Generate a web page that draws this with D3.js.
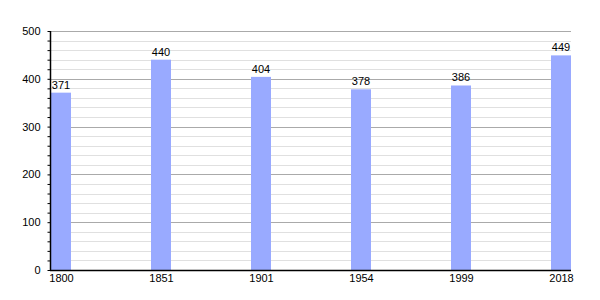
<!DOCTYPE html>
<meta charset="UTF-8">
<style>
  body { margin: 0; background-color: #fff; }
  svg { display: block; font-family: "Liberation Sans", Arial, sans-serif; }
</style>
<svg width="600" height="300"></svg>
<script src="https://d3js.org/d3.v7.min.js"></script>
<script>
  const years = ['1800', '1851', '1901', '1954', '1999', '2018'];
  const population = [371, 440, 404, 378, 386, 449];
  const yTicks = [0, 100, 200, 300, 400, 500];

  const LEFT = 50, RIGHT = 571, TOP = 31, BOTTOM = 270;
  const BAR_WIDTH = 20;

  const svg = d3.select('svg');

  const x = d3.scalePoint()
    .domain(years)
    .range([LEFT + 1 + BAR_WIDTH / 2, RIGHT - BAR_WIDTH / 2]);
  const y = d3.scaleLinear().domain([0, 500]).range([BOTTOM, TOP]);

  // grid: minor every 20, major every 100
  const minor = d3.range(20, 500, 20).filter(v => v % 100 !== 0);
  svg.append('g').selectAll('line').data(minor)
    .enter().append('line')
      .attr('x1', LEFT).attr('x2', RIGHT)
      .attr('y1', d => Math.round(y(d)) + 0.5).attr('y2', d => Math.round(y(d)) + 0.5)
      .attr('stroke', '#e0e0e0');
  svg.append('g').selectAll('line').data(yTicks.filter(v => v > 0))
    .enter().append('line')
      .attr('x1', LEFT).attr('x2', RIGHT)
      .attr('y1', d => Math.round(y(d)) + 0.5).attr('y2', d => Math.round(y(d)) + 0.5)
      .attr('stroke', '#aaa');

  // bars
  const data = years.map((year, i) => ({ year, value: population[i] }));
  svg.append('g').selectAll('rect').data(data)
    .enter().append('rect')
      .attr('x', d => x(d.year) - BAR_WIDTH / 2)
      .attr('width', BAR_WIDTH)
      .attr('y', d => y(d.value))
      .attr('height', d => BOTTOM - y(d.value))
      .attr('fill', '#99aaff');

  svg.append('g').selectAll('text').data(data)
    .enter().append('text')
      .attr('x', d => x(d.year))
      .attr('y', d => y(d.value) - 4)
      .attr('text-anchor', 'middle')
      .attr('font-size', 11)
      .text(d => d.value);

  // y axis with small ticks every 20
  const yAxis = d3.axisLeft(y)
    .tickValues(d3.range(0, 501, 20))
    .tickSize(3)
    .tickFormat(d => (d % 100 === 0 ? d : ''));
  const gy = svg.append('g')
    .attr('transform', `translate(${LEFT + 0.5},0)`)
    .call(yAxis);
  gy.select('.domain').attr('d', `M0,${TOP}V${BOTTOM}`).attr('stroke', '#000').attr('stroke-width', 1.5);
  gy.selectAll('.tick line').attr('stroke', '#000');
  gy.selectAll('.tick text')
    .attr('x', -10)
    .attr('font-size', 11)
    .attr('font-family', '"Liberation Sans", Arial, sans-serif')
    .attr('fill', '#000');

  // x axis
  const xAxis = d3.axisBottom(x).tickSize(0).tickPadding(4);
  const gx = svg.append('g')
    .attr('transform', `translate(0,${BOTTOM + 0.5})`)
    .call(xAxis);
  gx.select('.domain').attr('d', `M${LEFT},0H${RIGHT}`).attr('stroke', '#000').attr('stroke-width', 1.5);
  gx.selectAll('.tick text')
    .attr('font-size', 11)
    .attr('font-family', '"Liberation Sans", Arial, sans-serif')
    .attr('fill', '#000');
</script>
